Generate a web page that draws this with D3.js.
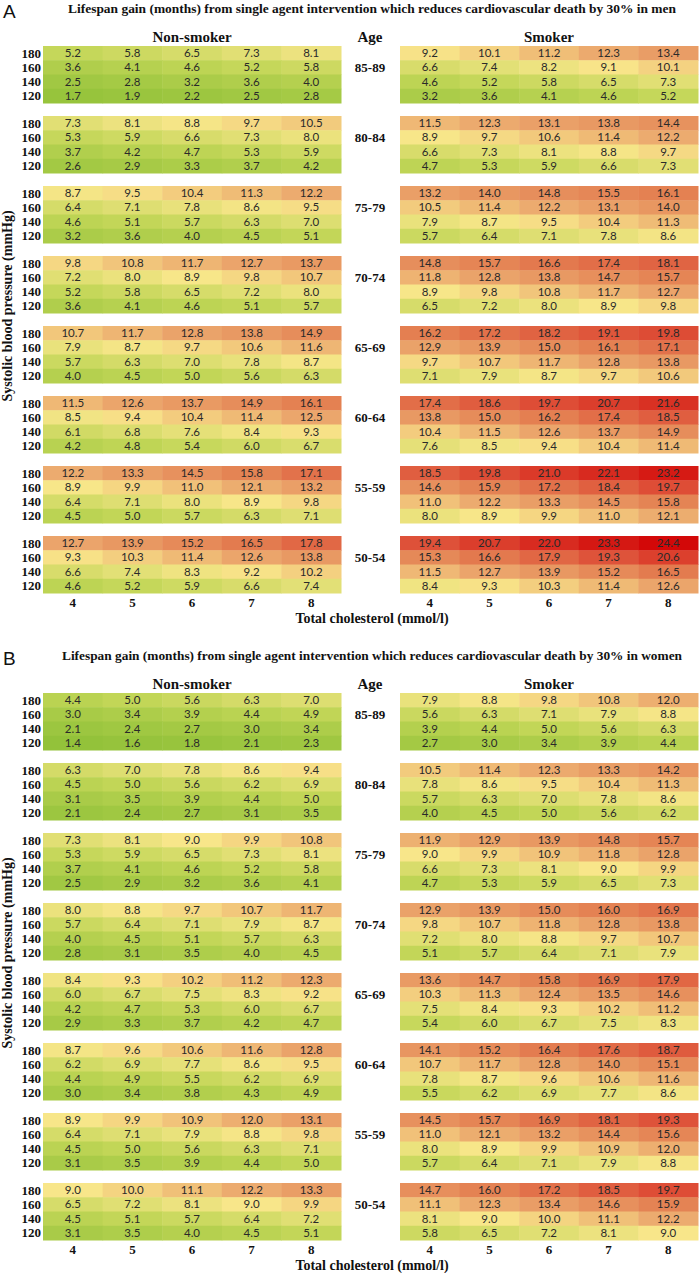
<!DOCTYPE html>
<html>
<head>
<meta charset="utf-8">
<script src="https://cdn.jsdelivr.net/npm/d3@7"></script>
<style>
  html, body { margin: 0; padding: 0; background: #fff; }
  svg { display: block; }
</style>
</head>
<body>
<svg id="chart" width="700" height="1273"></svg>
<script>
// ---------------- DATA ----------------
const cholesterol = [4, 5, 6, 7, 8];
const sbp = [180, 160, 140, 120];
const ages = ["85-89", "80-84", "75-79", "70-74", "65-69", "60-64", "55-59", "50-54"];

// Men, non-smoker: per age group, rows SBP 180,160,140,120; columns cholesterol 4..8
const menNonSmoker = [
  [[5.2,5.8,6.5,7.3,8.1],[3.6,4.1,4.6,5.2,5.8],[2.5,2.8,3.2,3.6,4.0],[1.7,1.9,2.2,2.5,2.8]],
  [[7.3,8.1,8.8,9.7,10.5],[5.3,5.9,6.6,7.3,8.0],[3.7,4.2,4.7,5.3,5.9],[2.6,2.9,3.3,3.7,4.2]],
  [[8.7,9.5,10.4,11.3,12.2],[6.4,7.1,7.8,8.6,9.5],[4.6,5.1,5.7,6.3,7.0],[3.2,3.6,4.0,4.5,5.1]],
  [[9.8,10.8,11.7,12.7,13.7],[7.2,8.0,8.9,9.8,10.7],[5.2,5.8,6.5,7.2,8.0],[3.6,4.1,4.6,5.1,5.7]],
  [[10.7,11.7,12.8,13.8,14.9],[7.9,8.7,9.7,10.6,11.6],[5.7,6.3,7.0,7.8,8.7],[4.0,4.5,5.0,5.6,6.3]],
  [[11.5,12.6,13.7,14.9,16.1],[8.5,9.4,10.4,11.4,12.5],[6.1,6.8,7.6,8.4,9.3],[4.2,4.8,5.4,6.0,6.7]],
  [[12.2,13.3,14.5,15.8,17.1],[8.9,9.9,11.0,12.1,13.2],[6.4,7.1,8.0,8.9,9.8],[4.5,5.0,5.7,6.3,7.1]],
  [[12.7,13.9,15.2,16.5,17.8],[9.3,10.3,11.4,12.6,13.8],[6.6,7.4,8.3,9.2,10.2],[4.6,5.2,5.9,6.6,7.4]]
];
const menSmoker = [
  [[9.2,10.1,11.2,12.3,13.4],[6.6,7.4,8.2,9.1,10.1],[4.6,5.2,5.8,6.5,7.3],[3.2,3.6,4.1,4.6,5.2]],
  [[11.5,12.3,13.1,13.8,14.4],[8.9,9.7,10.6,11.4,12.2],[6.6,7.3,8.1,8.8,9.7],[4.7,5.3,5.9,6.6,7.3]],
  [[13.2,14.0,14.8,15.5,16.1],[10.5,11.4,12.2,13.1,14.0],[7.9,8.7,9.5,10.4,11.3],[5.7,6.4,7.1,7.8,8.6]],
  [[14.8,15.7,16.6,17.4,18.1],[11.8,12.8,13.8,14.7,15.7],[8.9,9.8,10.8,11.7,12.7],[6.5,7.2,8.0,8.9,9.8]],
  [[16.2,17.2,18.2,19.1,19.8],[12.9,13.9,15.0,16.1,17.1],[9.7,10.7,11.7,12.8,13.8],[7.1,7.9,8.7,9.7,10.6]],
  [[17.4,18.6,19.7,20.7,21.6],[13.8,15.0,16.2,17.4,18.5],[10.4,11.5,12.6,13.7,14.9],[7.6,8.5,9.4,10.4,11.4]],
  [[18.5,19.8,21.0,22.1,23.2],[14.6,15.9,17.2,18.4,19.7],[11.0,12.2,13.3,14.5,15.8],[8.0,8.9,9.9,11.0,12.1]],
  [[19.4,20.7,22.0,23.3,24.4],[15.3,16.6,17.9,19.3,20.6],[11.5,12.7,13.9,15.2,16.5],[8.4,9.3,10.3,11.4,12.6]]
];
const womenNonSmoker = [
  [[4.4,5.0,5.6,6.3,7.0],[3.0,3.4,3.9,4.4,4.9],[2.1,2.4,2.7,3.0,3.4],[1.4,1.6,1.8,2.1,2.3]],
  [[6.3,7.0,7.8,8.6,9.4],[4.5,5.0,5.6,6.2,6.9],[3.1,3.5,3.9,4.4,5.0],[2.1,2.4,2.7,3.1,3.5]],
  [[7.3,8.1,9.0,9.9,10.8],[5.3,5.9,6.5,7.3,8.1],[3.7,4.1,4.6,5.2,5.8],[2.5,2.9,3.2,3.6,4.1]],
  [[8.0,8.8,9.7,10.7,11.7],[5.7,6.4,7.1,7.9,8.7],[4.0,4.5,5.1,5.7,6.3],[2.8,3.1,3.5,4.0,4.5]],
  [[8.4,9.3,10.2,11.2,12.3],[6.0,6.7,7.5,8.3,9.2],[4.2,4.7,5.3,6.0,6.7],[2.9,3.3,3.7,4.2,4.7]],
  [[8.7,9.6,10.6,11.6,12.8],[6.2,6.9,7.7,8.6,9.5],[4.4,4.9,5.5,6.2,6.9],[3.0,3.4,3.8,4.3,4.9]],
  [[8.9,9.9,10.9,12.0,13.1],[6.4,7.1,7.9,8.8,9.8],[4.5,5.0,5.6,6.3,7.1],[3.1,3.5,3.9,4.4,5.0]],
  [[9.0,10.0,11.1,12.2,13.3],[6.5,7.2,8.1,9.0,9.9],[4.5,5.1,5.7,6.4,7.2],[3.1,3.5,4.0,4.5,5.1]]
];
const womenSmoker = [
  [[7.9,8.8,9.8,10.8,12.0],[5.6,6.3,7.1,7.9,8.8],[3.9,4.4,5.0,5.6,6.3],[2.7,3.0,3.4,3.9,4.4]],
  [[10.5,11.4,12.3,13.3,14.2],[7.8,8.6,9.5,10.4,11.3],[5.7,6.3,7.0,7.8,8.6],[4.0,4.5,5.0,5.6,6.2]],
  [[11.9,12.9,13.9,14.8,15.7],[9.0,9.9,10.9,11.8,12.8],[6.6,7.3,8.1,9.0,9.9],[4.7,5.3,5.9,6.5,7.3]],
  [[12.9,13.9,15.0,16.0,16.9],[9.8,10.7,11.8,12.8,13.8],[7.2,8.0,8.8,9.7,10.7],[5.1,5.7,6.4,7.1,7.9]],
  [[13.6,14.7,15.8,16.9,17.9],[10.3,11.3,12.4,13.5,14.6],[7.5,8.4,9.3,10.2,11.2],[5.4,6.0,6.7,7.5,8.3]],
  [[14.1,15.2,16.4,17.6,18.7],[10.7,11.7,12.8,14.0,15.1],[7.8,8.7,9.6,10.6,11.6],[5.5,6.2,6.9,7.7,8.6]],
  [[14.5,15.7,16.9,18.1,19.3],[11.0,12.1,13.2,14.4,15.6],[8.0,8.9,9.9,10.9,12.0],[5.7,6.4,7.1,7.9,8.8]],
  [[14.7,16.0,17.2,18.5,19.7],[11.1,12.3,13.4,14.6,15.9],[8.1,9.0,10.0,11.1,12.2],[5.8,6.5,7.2,8.1,9.0]]
];

const panels = [
  { letter: "A", title: "Lifespan gain (months) from single agent intervention which reduces cardiovascular death by 30% in men",
    nonSmoker: menNonSmoker, smoker: menSmoker },
  { letter: "B", title: "Lifespan gain (months) from single agent intervention which reduces cardiovascular death by 30% in women",
    nonSmoker: womenNonSmoker, smoker: womenSmoker }
];

// ---------------- STYLE / LAYOUT ----------------
const serif = "'Liberation Serif', 'DejaVu Serif', serif";
const sans = "Lato, 'Liberation Sans', sans-serif";
const color = d3.scaleLinear()
  .domain([1.4, 5, 9, 12.5, 16, 19.5, 24.4])
  .range(["#93c23a", "#c2d657", "#f8e68a", "#eba66c", "#e48253", "#de5038", "#d30808"])
  .interpolate(d3.interpolateRgb)
  .clamp(true);

const svg = d3.select("#chart");
const panelOffset = 647;
const blockStep = 70, blockTop = 46, blockH = 57;

const xNS = d3.scaleBand().domain(cholesterol).range([43, 341]).padding(0);
const xS = d3.scaleBand().domain(cholesterol).range([400, 698]).padding(0);
const yRow = d3.scaleBand().domain(sbp).range([0, blockH]).padding(0);
const yBlock = d3.scaleBand().domain(ages).range([blockTop, blockTop + blockStep * ages.length]).padding(0);

panels.forEach((p, pi) => {
  const g = svg.append("g").attr("transform", `translate(0,${pi * panelOffset})`);

  g.append("text").attr("x", 3).attr("y", 18)
    .attr("font-family", "'Liberation Sans', Arial, sans-serif").attr("font-size", 19)
    .attr("fill", "#111").text(p.letter);

  g.append("text").attr("x", 372).attr("y", 13).attr("text-anchor", "middle")
    .attr("font-family", serif).attr("font-weight", "bold").attr("font-size", 12.5)
    .attr("fill", "#111")
    .attr("textLength", pi === 0 ? 608 : 620).attr("lengthAdjust", "spacingAndGlyphs")
    .text(p.title);

  const headers = [
    { t: "Non-smoker", x: (xNS.range()[0] + xNS.range()[1]) / 2 },
    { t: "Age", x: 370 },
    { t: "Smoker", x: (xS.range()[0] + xS.range()[1]) / 2 }
  ];
  g.selectAll("text.hdr").data(headers).join("text").attr("class", "hdr")
    .attr("x", d => d.x).attr("y", 42).attr("text-anchor", "middle")
    .attr("font-family", serif).attr("font-weight", "bold").attr("font-size", 15)
    .attr("fill", "#111").text(d => d.t);

  ages.forEach((age, ai) => {
    const by = yBlock(age);
    const bg = g.append("g").attr("transform", `translate(0,${by})`);
    [[xNS, p.nonSmoker[ai]], [xS, p.smoker[ai]]].forEach(([xs, mat]) => {
      const cells = [];
      sbp.forEach((s, ri) => cholesterol.forEach((c, ci) => cells.push({ s, c, v: mat[ri][ci] })));
      bg.selectAll(null).data(cells).join("rect")
        .attr("x", d => xs(d.c)).attr("y", d => yRow(d.s))
        .attr("width", xs.bandwidth() + 0.5).attr("height", yRow.bandwidth() + 0.5)
        .attr("fill", d => color(d.v));
      bg.selectAll(null).data(cells).join("text")
        .attr("x", d => xs(d.c) + xs.bandwidth() / 2)
        .attr("y", d => yRow(d.s) + yRow.bandwidth() / 2 + 4)
        .attr("text-anchor", "middle")
        .attr("font-family", sans).attr("font-size", 11.5).attr("fill", "#2a2a2a")
        .text(d => d.v.toFixed(1));
    });
    // row labels
    bg.selectAll(null).data(sbp).join("text")
      .attr("x", 41).attr("y", d => yRow(d) + yRow.bandwidth() / 2 + 4.5)
      .attr("text-anchor", "end")
      .attr("font-family", serif).attr("font-weight", "bold").attr("font-size", 13)
      .attr("fill", "#111").text(d => d);
    // age label (at 160 row)
    bg.append("text").attr("x", 370).attr("y", yRow(160) + yRow.bandwidth() / 2 + 4.5)
      .attr("text-anchor", "middle")
      .attr("font-family", serif).attr("font-weight", "bold").attr("font-size", 13)
      .attr("fill", "#111").text(age);
  });

  // x tick labels
  [xNS, xS].forEach(xs => {
    g.selectAll(null).data(cholesterol).join("text")
      .attr("x", d => xs(d) + xs.bandwidth() / 2).attr("y", 607)
      .attr("text-anchor", "middle")
      .attr("font-family", serif).attr("font-weight", "bold").attr("font-size", 13)
      .attr("fill", "#111").text(d => d);
  });
  g.append("text").attr("x", 372).attr("y", 623).attr("text-anchor", "middle")
    .attr("font-family", serif).attr("font-weight", "bold").attr("font-size", 14)
    .attr("fill", "#111").text("Total cholesterol (mmol/l)");

  g.append("text").attr("transform", "translate(12,306) rotate(-90)")
    .attr("text-anchor", "middle")
    .attr("font-family", serif).attr("font-weight", "bold").attr("font-size", 14)
    .attr("fill", "#111").text("Systolic blood pressure (mmHg)");
});
</script>
</body>
</html>
